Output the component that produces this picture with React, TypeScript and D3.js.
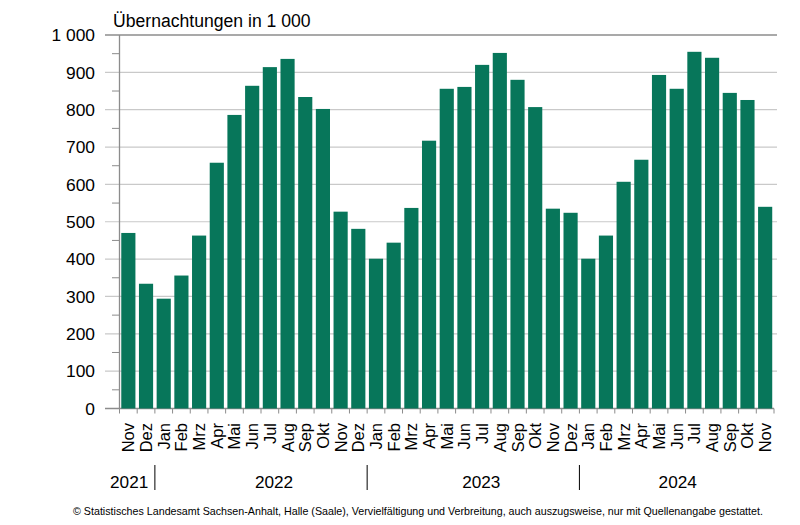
import React from "react";
import * as d3 from "d3";

const months = ["Nov","Dez","Jan","Feb","Mrz","Apr","Mai","Jun","Jul","Aug","Sep","Okt","Nov","Dez","Jan","Feb","Mrz","Apr","Mai","Jun","Jul","Aug","Sep","Okt","Nov","Dez","Jan","Feb","Mrz","Apr","Mai","Jun","Jul","Aug","Sep","Okt","Nov"];
const values = [470,334,294,356,463,658,786,864,914,936,834,802,527,481,401,444,537,717,856,861,920,952,880,807,535,524,401,463,607,666,893,856,955,939,845,826,540];
const years = ["2021","2022","2023","2024"];
const yearStarts = [0, 2, 14, 26];
const yearEnds = [2, 14, 26, 37];
const yTicks = [0,100,200,300,400,500,600,700,800,900,1000];
const yMinor = [50,150,250,350,450,550,650,750,850,950];

const W = 800, H = 525;
const left = 119.5, right = 774, top = 35, bottom = 408.5;
const FONT = "Arial, 'Liberation Sans', sans-serif";
const GREEN = "#07765a";
// small horizontal nudges of the year captions, as in the original layout
const yearShift = [-8, 13, 8, 1];

export default function App() {
  const idx = months.map((_, i) => i);
  const x = d3.scaleBand<number>().domain(idx).range([left, right]).paddingInner(0.2).paddingOuter(0.1);
  const step = x.step();
  const bx = (i: number) => left + i * step;
  const y = d3.scaleLinear().domain([0, 1000]).range([bottom, top]);
  const fmt = (v: number) => (v >= 1000 ? d3.format(",")(v).replace(",", " ") : String(v));

  return (
    <svg width={W} height={H} style={{ position: "absolute", left: 0, top: 0, background: "#fff" }} fontFamily={FONT}>
      <rect x={0} y={0} width={W} height={H} fill="#fff" />
      <text x={113} y={27} fontSize={17.6} fill="#000">Übernachtungen in 1 000</text>
      {yTicks.map((t) => (
        <g key={t}>
          <line x1={105} x2={t === 0 ? right : 777} y1={y(t)} y2={y(t)}
            stroke={t === 1000 || t === 0 ? "#8c8c8c" : "#c9c9c9"} strokeWidth={t === 1000 || t === 0 ? 1.3 : 1.2} />
          <text x={95} y={y(t)} dy="0.36em" textAnchor="end" fontSize={17.4} fill="#000">{fmt(t)}</text>
        </g>
      ))}
      {yMinor.map((t) => (
        <line key={t} x1={112} x2={left} y1={y(t)} y2={y(t)} stroke="#8c8c8c" strokeWidth={1} />
      ))}
      {values.map((v, i) => (
        <rect key={i} x={x(i)} y={y(v)} width={x.bandwidth()} height={y(0) - y(v)} fill={GREEN} />
      ))}
      <line x1={left} x2={left} y1={top} y2={bottom} stroke="#8c8c8c" strokeWidth={1.3} />
      {d3.range(months.length + 1).map((i) => (
        <line key={i} x1={bx(i)} x2={bx(i)} y1={bottom} y2={bottom + 5} stroke="#8c8c8c" strokeWidth={1} />
      ))}
      {months.map((m, i) => {
        const cx = (x(i) as number) + x.bandwidth() / 2;
        return (
          <text key={i} transform={`translate(${cx + 6},${423}) rotate(-90)`} textAnchor="end" fontSize={16.5} fill="#000">{m}</text>
        );
      })}
      {yearStarts.slice(1).map((s) => (
        <line key={s} x1={bx(s)} x2={bx(s)} y1={465} y2={490} stroke="#000" strokeWidth={1} />
      ))}
      {years.map((yr, k) => (
        <text key={yr} x={(bx(yearStarts[k]) + bx(yearEnds[k])) / 2 + yearShift[k]} y={488} textAnchor="middle" fontSize={17.2} fill="#000">{yr}</text>
      ))}
      <text x={73} y={515} fontSize={10.7} fill="#000">© Statistisches Landesamt Sachsen-Anhalt, Halle (Saale), Vervielfältigung und Verbreitung, auch auszugsweise, nur mit Quellenangabe gestattet.</text>
    </svg>
  );
}
